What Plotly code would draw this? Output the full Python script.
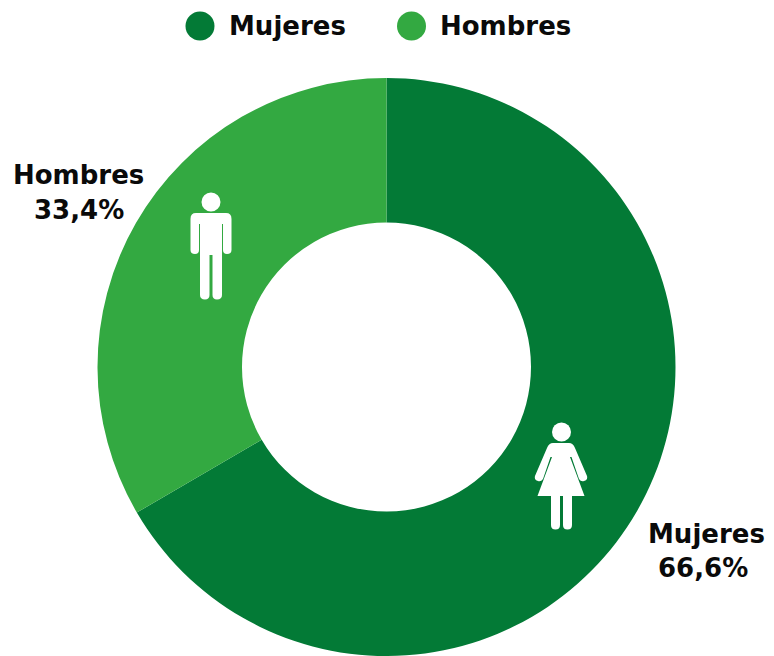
import re
import plotly.graph_objects as go

categories = ["Mujeres", "Hombres"]
values = [66.6, 33.4]
value_labels = ["66,6%", "33,4%"]
colors = ["#037A36", "#33A941"]

W, H = 774, 656
FONT = "DejaVu Sans"
SIZE = 26


def to_paper(path):
    toks = re.findall(r"[A-Za-z]|-?\d+\.?\d*", path)
    out, is_x = [], True
    for t in toks:
        if t.isalpha():
            out.append(t)
            is_x = True
        else:
            v = float(t)
            out.append(f"{v / W:.5f}" if is_x else f"{1 - v / H:.5f}")
            is_x = not is_x
    return " ".join(out)


def head(cx, cy, r):
    return dict(type="circle", xref="paper", yref="paper", x0=(cx - r) / W, x1=(cx + r) / W,
                y0=1 - (cy + r) / H, y1=1 - (cy - r) / H, fillcolor="white", line_width=0)


man = ("M 196 213 L 226 213 Q 231.5 213 231.5 219 L 231.5 250 Q 231.5 254 227 254 Q 223 254 223 250 "
       "L 223 224 L 222 224 L 222 295 Q 222 299.5 217 299.5 Q 212.5 299.5 212.5 295 L 212.5 255 L 209.5 255 "
       "L 209.5 295 Q 209.5 299.5 205 299.5 Q 200 299.5 200 295 L 200 224 L 199 224 L 199 250 "
       "Q 199 254 195 254 Q 190.5 254 190.5 250 L 190.5 219 Q 190.5 213 196 213 Z")
woman = ("M 553 443 L 569 443 Q 573 443 575 448 L 587 476 Q 588 480 584 481 Q 581 482 579 479 L 571.5 457 "
         "L 570 457 L 584.5 496 L 572 496 L 572 525 Q 572 529.5 567.5 529.5 Q 563 529.5 563 525 L 563 496 "
         "L 560 496 L 560 525 Q 560 529.5 555.5 529.5 Q 551 529.5 551 525 L 551 496 L 537.5 496 L 552 457 "
         "L 550.5 457 L 543 479 Q 541 482 538 481 Q 534 480 535 476 L 547 448 Q 549 443 553 443 Z")

shapes = [
    head(211, 202, 9.5),
    dict(type="path", path=to_paper(man), xref="paper", yref="paper", fillcolor="white", line_width=0),
    head(561.5, 432, 9.5),
    dict(type="path", path=to_paper(woman), xref="paper", yref="paper", fillcolor="white", line_width=0),
]
for (cx, color) in zip([200, 411.5], colors):
    shapes.append(dict(type="circle", xref="paper", yref="paper", x0=(cx - 14.5) / W, x1=(cx + 14.5) / W,
                       y0=1 - 40.5 / H, y1=1 - 11.5 / H, fillcolor=color, line_width=0))


def label(x, y, text, anchor="center"):
    return dict(x=x / W, y=1 - y / H, xref="paper", yref="paper", text=f"<b>{text}</b>", showarrow=False,
                xanchor=anchor, yanchor="middle", font=dict(family=FONT, size=SIZE, color="#0A0A0A"))


annotations = [
    label(227, 26, categories[0], "left"),
    label(438, 26, categories[1], "left"),
    label(78.5, 175, categories[1]),
    label(78.5, 210, value_labels[1]),
    label(706.5, 534, categories[0]),
    label(703, 568, value_labels[0]),
]

fig = go.Figure(go.Pie(
    labels=categories, values=values, hole=0.5, sort=False, direction="clockwise", rotation=0,
    marker=dict(colors=colors, line=dict(width=0)), textinfo="none", hoverinfo="label+percent",
    domain=dict(x=[97.5 / W, 675.5 / W], y=[0, 578 / H]),
))
fig.update_layout(width=W, height=H, margin=dict(l=0, r=0, t=0, b=0), showlegend=False,
                  paper_bgcolor="white", plot_bgcolor="white", shapes=shapes, annotations=annotations)
fig.write_html("out.html", config={"displayModeBar": False},
               post_script="document.body.style.margin='0';document.body.style.overflow='hidden';")
